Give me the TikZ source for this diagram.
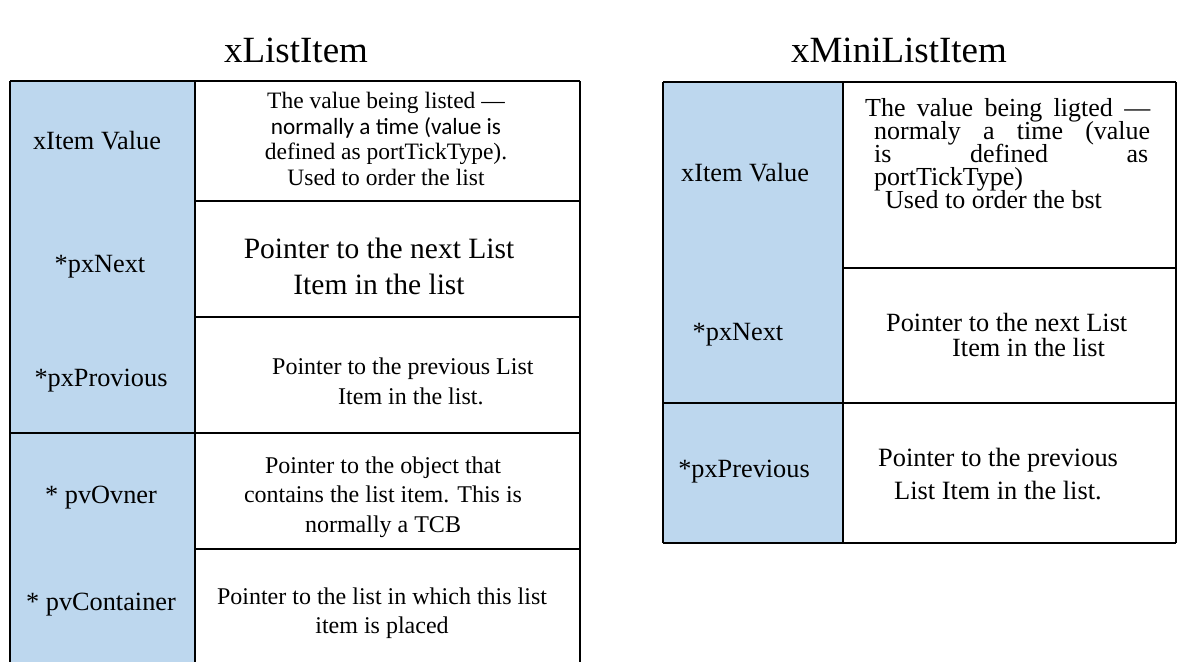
\documentclass[tikz,border=0pt]{standalone}
\usepackage{fontspec}
\setmainfont{Liberation Serif}
\newfontfamily\calfont{Carlito}
\lineskiplimit=-30pt
\definecolor{fieldblue}{HTML}{BDD7EE}
\tikzset{
  grid/.style={line width=1.4pt, black},
  title/.style={font=\fontsize{37}{40}\selectfont, anchor=base, inner sep=0pt},
  lbl/.style={font=\fontsize{26.3}{30}\selectfont, inner sep=0pt},
  desc/.style={inner sep=0pt, align=center},
  descl/.style={inner sep=0pt, align=left, anchor=west}
}
\begin{document}
\begin{tikzpicture}[x=1pt,y=-1pt]
\path[use as bounding box] (0,0) rectangle (1177,662);

% headings
\node[title] (tlist) at (296,62) {xListItem};
\node[title] (tmini) at (899,62) {xMiniListItem};

% ---- xListItem table ----
\fill[fieldblue] (10,81) rectangle (195,662);
\draw[grid] (10,81) -- (580,81);
\draw[grid] (10,81) -- (10,662);
\draw[grid] (195,81) -- (195,662);
\draw[grid] (580,81) -- (580,662);
\draw[grid] (195,201) -- (580,201);
\draw[grid] (195,317) -- (580,317);
\draw[grid] (10,433) -- (580,433);
\draw[grid] (195,549) -- (580,549);

\node[lbl] (lval) at (97,141) {xItem Value};
\node[lbl] (lnext) at (100,267) {*pxNext};
\node[lbl] (lprev) at (101,381) {*pxProvious};
\node[lbl] (lown) at (101,498) {* pvOvner};
\node[lbl] (lcont) at (101,605) {* pvContainer};

\node[desc, font=\fontsize{23.5}{25.5}\selectfont] (dval) at (386,139)
  {The value being listed —\\
   {\calfont\fontsize{23.2}{25.5}\selectfont normally a time (value is}\\
   defined as portTickType).\\
   Used to order the list};
\node[desc, font=\fontsize{29.5}{36}\selectfont] (dnext) at (379,266)
  {Pointer to the next List\\Item in the list};
\node[descl, font=\fontsize{24}{30}\selectfont] (dprev) at (272,381)
  {Pointer to the previous List\\\hspace*{66pt}Item in the list.};
\node[desc, font=\fontsize{24}{29.5}\selectfont] (down) at (383,497)
  {Pointer to the object that\\contains the list item. This is\\normally a TCB};
\node[desc, font=\fontsize{24}{29}\selectfont] (dcont) at (382,613)
  {Pointer to the list in which this list\\item is placed};

% ---- xMiniListItem table ----
\fill[fieldblue] (663,82) rectangle (843,543);
\draw[grid] (663,82) -- (1176,82);
\draw[grid] (663,82) -- (663,543);
\draw[grid] (843,82) -- (843,543);
\draw[grid] (1176,82) -- (1176,543);
\draw[grid] (843,268) -- (1176,268);
\draw[grid] (663,403) -- (1176,403);
\draw[grid] (663,543) -- (1176,543);

\node[lbl] (mval) at (745,173) {xItem Value};
\node[lbl] (mnext) at (738,335) {*pxNext};
\node[lbl] (mprev) at (744,472) {*pxPrevious};

\node[descl, font=\fontsize{26}{23}\selectfont] (mdval) at (865,154)
  {\makebox[285pt][s]{The value being ligted —}\\
   \hspace*{9pt}\makebox[276pt][s]{normaly a time (value}\\
   \hspace*{9pt}\makebox[274pt][s]{is defined as}\\
   \hspace*{9pt}portTickType)\\
   \hspace*{20pt}Used to order the bst};
\node[descl, font=\fontsize{26.3}{25}\selectfont] (mdnext) at (886,335)
  {Pointer to the next List\\\hspace*{66pt}Item in the list};
\node[descl, font=\fontsize{26.4}{33}\selectfont] (mdprev) at (878,474)
  {Pointer to the previous\\\hspace*{16pt}List Item in the list.};
\end{tikzpicture}
\end{document}
